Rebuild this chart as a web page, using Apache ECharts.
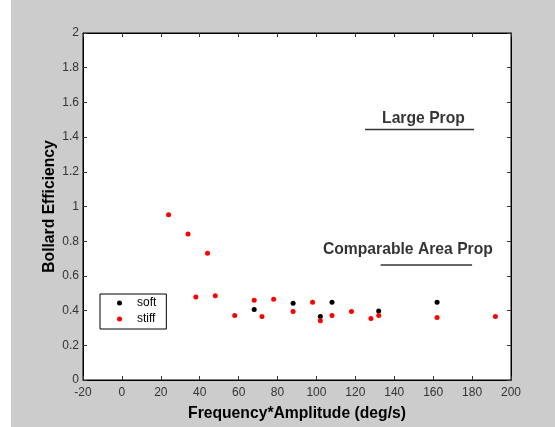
<!DOCTYPE html>
<html>
<head>
<meta charset="utf-8">
<title>Bollard Efficiency</title>
<script src="https://cdn.jsdelivr.net/npm/echarts@6/dist/echarts.min.js"></script>
<style>
    html, body { margin: 0; padding: 0; background: #fff; }
    #chart { position: absolute; left: 11px; top: 0; width: 544px; height: 427px; }
</style>
</head>
<body>
<div id="chart"></div>
<script>
    // data
    const softX = [68, 88, 102, 108, 132, 162];
    const softY = [0.406, 0.443, 0.366, 0.448, 0.397, 0.448];
    const stiffX = [24, 34, 38, 44, 48, 58, 68, 72, 78, 88, 98, 102, 108, 118, 128, 132, 162, 192];
    const stiffY = [0.952, 0.841, 0.479, 0.73, 0.485, 0.372, 0.46, 0.366, 0.466, 0.395, 0.448, 0.341, 0.372, 0.395, 0.354, 0.372, 0.36, 0.366];

    // annotations: text and underline segments
    const noteText = ['Large Prop', 'Comparable Area Prop'];
    const noteX = [155, 147];
    const noteY = [1.506, 0.749];
    const underlineX = [[125, 181], [133, 180]];
    const underlineY = [1.444, 0.663];

    const font = "'Liberation Sans', Arial, sans-serif";
    const pair = (xs, ys) => xs.map((x, i) => [x, ys[i]]);

    const chart = echarts.init(document.getElementById('chart'));

    const axisCommon = {
        axisLine: { show: true, onZero: false, lineStyle: { color: '#000', width: 1 } },
        axisTick: { show: true, inside: true, length: 4, lineStyle: { color: '#333' } },
        splitLine: { show: false }
    };

    const series = [
        {
            name: 'soft', type: 'scatter', symbol: 'circle', symbolSize: 5,
            itemStyle: { color: '#000', opacity: 1 }, data: pair(softX, softY)
        },
        {
            name: 'stiff', type: 'scatter', symbol: 'circle', symbolSize: 5,
            itemStyle: { color: '#ff0000', opacity: 1 }, data: pair(stiffX, stiffY)
        }
    ];

    underlineX.forEach((xs, i) => {
        series.push({
            type: 'line', silent: true, symbol: 'none',
            lineStyle: { color: '#333', width: 1.5 },
            data: xs.map(x => [x, underlineY[i]])
        });
    });

    series.push({
        type: 'scatter', silent: true, symbolSize: 1,
        itemStyle: { color: 'transparent' },
        label: {
            show: true, position: 'inside',
            formatter: p => noteText[p.dataIndex],
            color: '#000', fontFamily: font, fontSize: 15.7, fontWeight: 'bold'
        },
        data: pair(noteX, noteY)
    });

    chart.setOption({
        backgroundColor: '#cccccc',
        animation: false,
        grid: {
            left: 72, right: 44, top: 33, bottom: 46,
            show: true, backgroundColor: '#fff', borderColor: '#000', borderWidth: 1
        },
        legend: {
            data: ['soft', 'stiff'],
            orient: 'vertical',
            left: 89, top: 294,
            itemWidth: 25, itemHeight: 5, itemGap: 4,
            padding: [3, 10, 4, 17],
            backgroundColor: '#fff', borderColor: '#000', borderWidth: 1, borderRadius: 0,
            textStyle: { color: '#000', fontFamily: font, fontSize: 12 }
        },
        xAxis: [
            Object.assign({
                type: 'value', position: 'bottom', min: -20, max: 200, interval: 20,
                name: 'Frequency*Amplitude (deg/s)', nameLocation: 'middle', nameGap: 26,
                nameTextStyle: { color: '#000', fontFamily: font, fontSize: 15.7, fontWeight: 'bold' },
                axisLabel: { color: '#333', fontFamily: font, fontSize: 12, margin: 7 }
            }, axisCommon),
            Object.assign({
                type: 'value', position: 'top', min: -20, max: 200, interval: 20,
                axisLabel: { show: false }
            }, axisCommon)
        ],
        yAxis: [
            Object.assign({
                type: 'value', position: 'left', min: 0, max: 2, interval: 0.2,
                name: 'Bollard Efficiency', nameLocation: 'middle', nameGap: 25,
                nameMoveOverlap: false,
                nameTextStyle: { color: '#000', fontFamily: font, fontSize: 15.7, fontWeight: 'bold' },
                axisLabel: { color: '#333', fontFamily: font, fontSize: 12, margin: 4 }
            }, axisCommon),
            Object.assign({
                type: 'value', position: 'right', min: 0, max: 2, interval: 0.2,
                axisLabel: { show: false }
            }, axisCommon)
        ],
        series: series
    });
</script>
</body>
</html>
